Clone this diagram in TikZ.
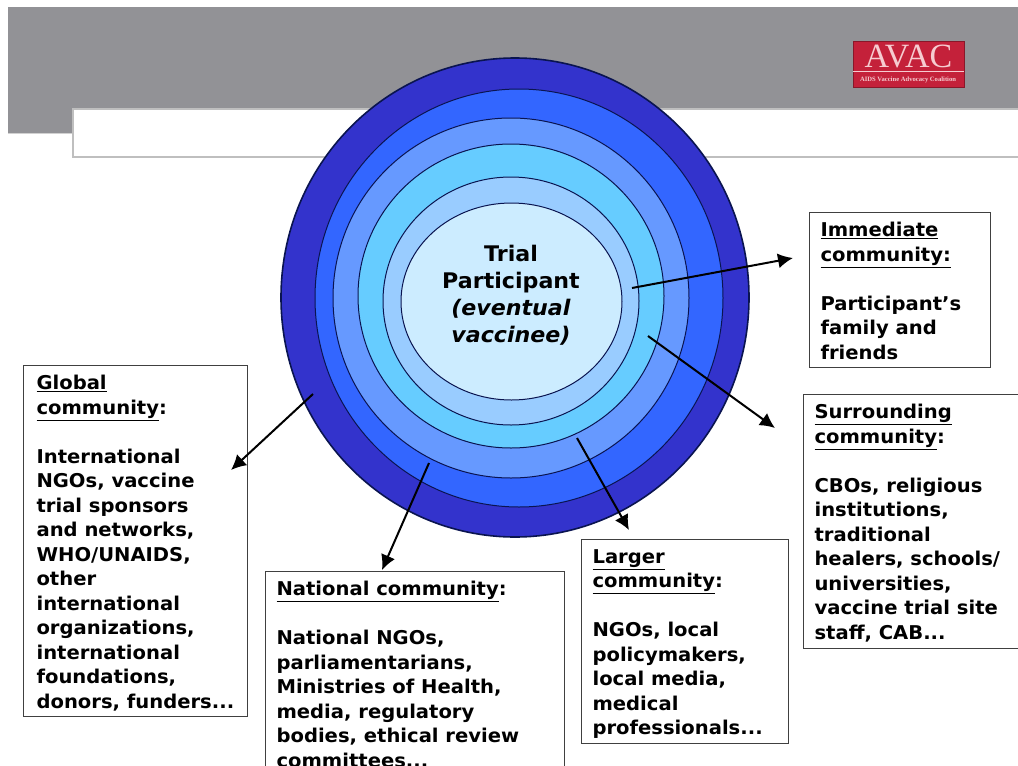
\documentclass[tikz,border=0pt]{standalone}
\usepackage{fontspec}
\setmainfont{DejaVu Sans}
\newfontfamily\wideface[FakeStretch=1.03]{DejaVu Sans}
\newfontfamily\logofont{Liberation Serif}
\usetikzlibrary{shapes.geometric,arrows.meta}
\definecolor{bandgray}{HTML}{929296}
\definecolor{ringA}{HTML}{3333CC}
\definecolor{ringB}{HTML}{3366FF}
\definecolor{ringC}{HTML}{6699FF}
\definecolor{ringD}{HTML}{66CCFF}
\definecolor{ringE}{HTML}{99CCFF}
\definecolor{ringF}{HTML}{CCECFF}
\definecolor{ringline}{HTML}{0A1450}
\definecolor{logored}{HTML}{C4213A}
\definecolor{logotext}{HTML}{F6CBD0}
\newcommand{\boxtext}[3]{\parbox[t][#2pt][t]{#1pt}{\raggedright\wideface\fontsize{19}{24.5}\bfseries\selectfont #3}}
\tikzset{
  ring/.style={ellipse,draw=ringline,line width=1pt,inner sep=0pt,outer sep=0pt},
  infobox/.style={draw=black!75,line width=1.1pt,fill=white,anchor=north west,inner xsep=11pt,inner ysep=10pt,align=left},
  pointer/.style={draw=black,line width=2pt,-{Latex[length=15pt,width=15pt]}},
}
\begin{document}
\begin{tikzpicture}[x=1pt,y=-1pt]
\clip (0,0) rectangle (1018,766);
\fill[white] (0,0) rectangle (1018,766);
% header band
\fill[bandgray] (8,7) -- (1018,7) -- (1018,109) -- (73,109) -- (73,133) -- (8,133) -- cycle;
\draw[black!18,line width=1pt] (8,133.5) -- (73,133.5);
\draw[black!25,fill=white,line width=1.5pt] (1025,109) -- (73,109) -- (73,157) -- (1025,157);
% logo
\node[fill=logored,draw=logored!70!black,line width=0.8pt,minimum width=111pt,minimum height=46pt,inner sep=0pt,anchor=north west] (logo) at (853,41) {};
\node[text=logotext,font=\logofont\fontsize{34}{34}\selectfont,inner sep=0pt] (logoname) at (908.5,56.5) {AVAC};
\draw[logotext,line width=1pt] (853,71.5) -- (964,71.5);
\node[text=logotext,font=\logofont\bfseries\fontsize{6.6}{7}\selectfont,inner sep=0pt] (logosub) at (908,79.5) {AIDS Vaccine Advocacy Coalition};
% rings
\node[ring,line width=1.6pt,fill=ringA,minimum width=468pt,minimum height=479pt] (r1) at (515,297.5) {};
\node[ring,fill=ringB,minimum width=408pt,minimum height=418pt] (r2) at (519,298) {};
\node[ring,fill=ringC,minimum width=356pt,minimum height=360pt] (r3) at (511,298) {};
\node[ring,fill=ringD,minimum width=306pt,minimum height=304pt] (r4) at (511,296) {};
\node[ring,fill=ringE,minimum width=256pt,minimum height=248pt] (r5) at (511,301) {};
\node[ring,fill=ringF,minimum width=221pt,minimum height=197pt] (r6) at (511.5,301.5) {};
\node[align=center,font=\wideface\fontsize{21.5}{27}\bfseries\selectfont,inner sep=0pt] (centre) at (511,295) {Trial\\Participant\\\textit{(eventual}\\\textit{vaccinee)}};
% boxes
\node[infobox] (immediate) at (809,212) {\boxtext{159}{135}{\underline{Immediate}\\\underline{community:}\\[24.5pt]Participant’s\\family and\\friends}};
\node[infobox] (surrounding) at (803,394) {\boxtext{196}{234}{\underline{Surrounding}\\\underline{community}:\\[24.5pt]CBOs, religious\\institutions,\\traditional\\healers, schools/\\universities,\\vaccine trial site\\staff, CAB...}};
\node[infobox,inner xsep=13pt] (global) at (23,365) {\boxtext{198}{331}{\underline{Global}\\\underline{community}:\\[24.5pt]International\\NGOs, vaccine\\trial sponsors\\and networks,\\WHO/UNAIDS,\\other\\international\\organizations,\\international\\foundations,\\donors, funders...}};
\node[infobox] (national) at (265,571) {\boxtext{277}{200}{\underline{National community}:\\[24.5pt]National NGOs,\\parliamentarians,\\Ministries of Health,\\media, regulatory\\bodies, ethical review\\committees...}};
\node[infobox] (larger) at (581,539) {\boxtext{185}{184}{\underline{Larger}\\\underline{community}:\\[24.5pt]NGOs, local\\policymakers,\\local media,\\medical\\professionals...}};
% connector ends
\coordinate (sA) at (632,288); \coordinate (tA) at (793,258);
\coordinate (sB) at (648,336); \coordinate (tB) at (775,428);
\coordinate (sC) at (313,394); \coordinate (tC) at (231,470);
\coordinate (sD) at (429,463); \coordinate (tD) at (382,570);
\coordinate (sE) at (577,438); \coordinate (tE) at (629,530);
\draw[pointer] (sA) -- (tA);
\draw[pointer] (sB) -- (tB);
\draw[pointer] (sC) -- (tC);
\draw[pointer] (sD) -- (tD);
\draw[pointer] (sE) -- (tE);
\end{tikzpicture}
\end{document}
